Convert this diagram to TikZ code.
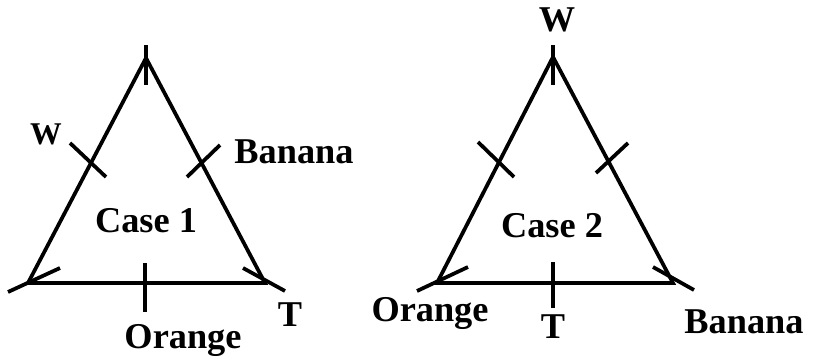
\documentclass[tikz,border=0pt]{standalone}
\usepackage{fontspec}
\setmainfont{Liberation Serif}
\begin{document}
\begin{tikzpicture}[x=0.03cm,y=-0.03cm,line width=3.2pt,
  lbl/.style={font=\bfseries\fontsize{31}{31}\selectfont,inner sep=0pt},
  small/.style={font=\bfseries\fontsize{27}{27}\selectfont,inner sep=0pt}]
  \useasboundingbox (0,0) rectangle (813,359);
  % Case 1
  \coordinate (top1) at (146,58);
  \coordinate (left1) at (28,283);
  \coordinate (right1) at (265,283);
  \draw (top1) -- (left1) -- (right1) -- cycle;
  % marks
  \draw (146,45) -- (146,85);
  \draw (145,263) -- (145,312);
  \draw (70,143) -- (106,177);
  \draw (220,145) -- (187,177);
  \draw (60,268) -- (8,292);
  \draw (243,268) -- (285,291);
  % labels
  \node[small] (w1) at (46,134) {W};
  \node[lbl] (banana1) at (294,152) {Banana};
  \node[lbl] (case1) at (146,221) {Case 1};
  \node[lbl] (orange1) at (183,340) {Orange};
  \node[lbl] (t1) at (290,315) {T};
  % Case 2
  \coordinate (top2) at (553,57);
  \coordinate (left2) at (437,283);
  \coordinate (right2) at (673,283);
  \draw (top2) -- (left2) -- (right2) -- cycle;
  % marks
  \draw (553,45) -- (553,85);
  \draw (553,262) -- (553,308);
  \draw (478,142) -- (514,177);
  \draw (628,143) -- (596,173);
  \draw (468,267) -- (417,291);
  \draw (653,267) -- (694,290);
  % labels
  \node[lbl] (w2) at (557,20) {W};
  \node[lbl] (case2) at (552,226) {Case 2};
  \node[lbl] (orange2) at (430,313) {Orange};
  \node[lbl] (t2) at (553,327) {T};
  \node[lbl] (banana2) at (744,322) {Banana};
\end{tikzpicture}
\end{document}
